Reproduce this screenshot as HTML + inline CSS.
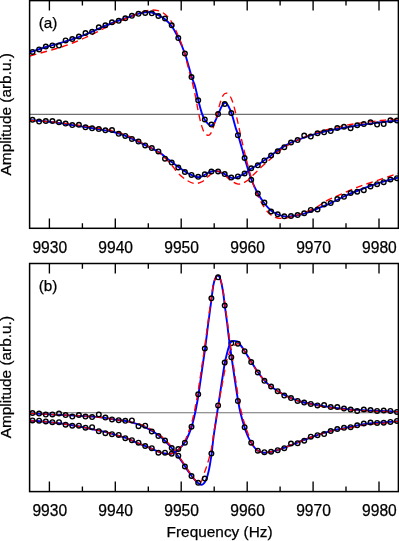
<!DOCTYPE html>
<html><head><meta charset="utf-8"><title>Figure</title>
<style>
html,body{margin:0;padding:0;background:#fff;}
svg{display:block;}
svg text{font-family:"Liberation Sans",sans-serif;font-size:15.6px;fill:#000;stroke:#000;stroke-width:0.25px;}
</style></head><body>
<div style="will-change:transform;width:399px;height:541px;overflow:hidden">
<svg width="399" height="541" viewBox="0 0 399 541">
<rect width="399" height="541" fill="#fff"/>
<line x1="29.6" y1="114.4" x2="398.4" y2="114.4" stroke="#707070" stroke-width="1.1"/><path d="M29.9 52.4C32.6 51.5 41.1 48.5 46.0 47.0C50.9 45.5 54.9 44.6 59.3 43.3C63.7 42.0 68.2 40.7 72.6 39.2C77.0 37.7 81.3 36.1 85.7 34.3C90.1 32.5 94.5 30.5 98.9 28.6C103.3 26.7 107.9 24.7 112.2 23.0C116.5 21.3 121.7 19.6 125.0 18.4C128.3 17.2 129.7 16.7 132.0 15.9C134.3 15.1 136.6 14.3 138.8 13.7C141.0 13.1 143.5 12.6 145.0 12.3C146.5 12.0 146.4 12.0 147.6 12.0C148.8 12.0 150.2 12.0 152.0 12.5C153.8 13.0 156.1 14.1 158.3 15.2C160.5 16.3 162.8 17.5 165.0 19.3C167.2 21.1 169.4 22.9 171.6 26.0C173.8 29.1 176.1 33.4 178.4 38.1C180.7 42.9 183.0 48.0 185.2 54.5C187.4 61.0 190.1 71.8 191.7 77.1C193.3 82.3 193.9 82.1 195.0 86.0C196.1 89.9 197.2 95.8 198.3 100.3C199.4 104.8 200.7 109.8 201.8 113.1C202.9 116.3 203.8 118.0 204.8 119.8C205.8 121.5 206.8 122.6 207.8 123.6C208.8 124.6 209.8 125.6 210.8 125.6C211.8 125.6 212.9 124.7 213.8 123.6C214.7 122.5 215.3 120.7 216.1 119.1C216.8 117.5 217.4 115.8 218.3 113.8C219.2 111.8 220.4 108.8 221.3 107.1C222.2 105.4 223.0 104.5 223.6 103.8C224.2 103.1 224.5 102.8 225.1 102.9C225.7 103.0 226.4 103.2 227.3 104.4C228.2 105.6 229.4 108.0 230.3 110.1C231.2 112.2 231.7 113.9 232.6 116.8C233.5 119.7 234.7 124.3 235.6 127.4C236.5 130.5 237.1 131.5 238.2 135.3C239.3 139.1 241.3 146.3 242.4 150.1C243.5 153.9 243.1 153.1 244.6 158.0C246.1 162.9 249.2 173.6 251.4 179.5C253.6 185.4 255.7 189.5 257.9 193.5C260.1 197.5 262.3 200.7 264.5 203.5C266.7 206.3 268.8 208.7 271.0 210.5C273.2 212.3 275.5 213.5 277.8 214.5C280.1 215.5 283.0 216.1 284.6 216.4C286.2 216.8 286.5 216.6 287.6 216.6C288.7 216.6 289.4 216.5 291.1 216.3C292.8 216.1 295.6 215.7 297.9 215.2C300.2 214.7 301.7 214.4 305.0 213.3C308.3 212.2 313.4 210.2 317.6 208.5C321.8 206.8 325.8 205.3 330.2 203.3C334.6 201.3 339.5 198.6 344.0 196.5C348.5 194.4 352.0 193.0 357.0 191.0C362.0 189.0 369.3 186.3 374.0 184.7C378.7 183.1 381.0 182.4 385.0 181.2C389.0 180.0 395.8 178.3 398.0 177.7" fill="none" stroke="#0000ff" stroke-width="1.9" stroke-linejoin="round"/><path d="M29.9 56.0C32.6 55.2 41.0 52.9 46.0 51.5C51.0 50.1 55.6 48.9 60.0 47.5C64.4 46.1 68.3 44.7 72.6 43.0C76.9 41.3 81.3 39.5 85.7 37.5C90.1 35.5 94.5 33.2 98.9 31.0C103.3 28.8 108.4 26.0 112.2 24.2C116.0 22.4 118.7 21.6 122.0 20.3C125.3 19.0 129.0 17.4 132.0 16.2C135.0 14.9 137.5 13.7 140.0 12.8C142.5 11.9 144.8 11.1 147.0 10.6C149.2 10.1 151.2 10.0 153.0 10.0C154.8 10.0 156.3 10.1 158.0 10.6C159.7 11.1 161.3 11.7 163.0 12.8C164.7 13.9 166.3 15.1 168.0 17.0C169.7 18.9 171.2 21.1 173.0 24.5C174.8 27.9 177.2 33.4 179.0 37.6C180.8 41.9 182.0 44.6 183.7 50.0C185.3 55.4 187.4 64.3 188.9 70.0C190.4 75.7 191.5 79.3 192.7 84.0C193.8 88.7 194.9 93.7 195.8 98.0C196.7 102.3 197.1 105.8 198.0 110.1C198.9 114.4 200.0 120.0 201.0 123.6C202.0 127.2 202.9 129.9 204.0 131.9C205.1 133.9 206.7 135.1 207.8 135.3C208.9 135.6 209.8 135.0 210.8 133.4C211.8 131.8 212.8 128.8 213.8 125.9C214.8 123.0 215.8 119.7 216.8 116.1C217.8 112.5 218.8 107.5 219.8 104.1C220.8 100.7 221.7 97.6 222.8 95.8C223.9 94.0 225.3 93.1 226.6 93.2C227.8 93.3 229.2 94.7 230.3 96.5C231.4 98.3 232.3 100.8 233.3 104.1C234.3 107.4 235.4 111.8 236.4 116.1C237.4 120.3 238.3 124.6 239.4 129.6C240.5 134.6 241.9 141.1 243.1 146.2C244.3 151.3 245.1 154.6 246.5 160.0C247.9 165.4 249.9 173.2 251.5 178.5C253.1 183.8 254.5 187.8 256.0 191.5C257.5 195.2 259.0 198.2 260.5 201.0C262.0 203.8 263.4 206.3 265.0 208.5C266.6 210.7 268.3 212.8 270.0 214.3C271.7 215.8 273.3 216.6 275.0 217.3C276.7 218.0 278.0 218.2 280.0 218.3C282.0 218.4 284.5 218.2 287.0 217.8C289.5 217.4 292.0 216.7 295.0 215.8C298.0 214.9 301.2 213.9 305.0 212.3C308.8 210.8 314.3 208.3 317.6 206.5C320.9 204.7 321.4 203.5 325.0 201.6C328.6 199.7 333.3 197.6 339.0 195.1C344.7 192.6 352.4 189.1 359.1 186.6C365.8 184.1 372.6 182.0 379.1 179.8C385.6 177.6 394.9 174.5 398.0 173.4" fill="none" stroke="#ff0000" stroke-width="1.35" stroke-dasharray="6.7 4.25"/><g fill="none" stroke="#000" stroke-width="1.4"><circle cx="32.5" cy="51.9" r="2.3"/><circle cx="39.1" cy="49.4" r="2.3"/><circle cx="45.8" cy="46.6" r="2.3"/><circle cx="52.4" cy="45.4" r="2.3"/><circle cx="59.0" cy="45.6" r="2.3"/><circle cx="65.6" cy="40.4" r="2.3"/><circle cx="72.3" cy="39.1" r="2.3"/><circle cx="78.9" cy="36.6" r="2.3"/><circle cx="85.5" cy="33.1" r="2.3"/><circle cx="92.1" cy="31.8" r="2.3"/><circle cx="98.8" cy="27.3" r="2.3"/><circle cx="105.4" cy="25.3" r="2.3"/><circle cx="112.0" cy="22.3" r="2.3"/><circle cx="118.7" cy="20.8" r="2.3"/><circle cx="125.3" cy="18.3" r="2.3"/><circle cx="131.9" cy="15.8" r="2.3"/><circle cx="138.5" cy="13.8" r="2.3"/><circle cx="145.2" cy="13.0" r="2.3"/><circle cx="151.8" cy="13.3" r="2.3"/><circle cx="158.4" cy="16.0" r="2.3"/><circle cx="165.0" cy="18.5" r="2.3"/><circle cx="171.7" cy="25.3" r="2.3"/><circle cx="178.3" cy="38.1" r="2.3"/><circle cx="184.9" cy="53.6" r="2.3"/><circle cx="191.5" cy="77.1" r="2.3"/><circle cx="198.2" cy="100.3" r="2.3"/><circle cx="204.8" cy="119.4" r="2.3"/><circle cx="211.4" cy="124.6" r="2.3"/><circle cx="218.1" cy="114.1" r="2.3"/><circle cx="224.7" cy="104.0" r="2.3"/><circle cx="231.3" cy="113.1" r="2.3"/><circle cx="237.9" cy="135.2" r="2.3"/><circle cx="244.6" cy="158.0" r="2.3"/><circle cx="251.2" cy="179.8" r="2.3"/><circle cx="257.8" cy="193.6" r="2.3"/><circle cx="264.4" cy="202.6" r="2.3"/><circle cx="271.1" cy="211.5" r="2.3"/><circle cx="277.7" cy="214.3" r="2.3"/><circle cx="284.3" cy="216.3" r="2.3"/><circle cx="291.0" cy="216.1" r="2.3"/><circle cx="297.6" cy="215.1" r="2.3"/><circle cx="304.2" cy="213.3" r="2.3"/><circle cx="310.8" cy="209.9" r="2.3"/><circle cx="317.5" cy="209.5" r="2.3"/><circle cx="324.1" cy="204.5" r="2.3"/><circle cx="330.7" cy="203.1" r="2.3"/><circle cx="337.3" cy="199.1" r="2.3"/><circle cx="344.0" cy="196.8" r="2.3"/><circle cx="350.6" cy="193.0" r="2.3"/><circle cx="357.2" cy="191.7" r="2.3"/><circle cx="363.8" cy="190.2" r="2.3"/><circle cx="370.5" cy="186.5" r="2.3"/><circle cx="377.1" cy="184.2" r="2.3"/><circle cx="383.7" cy="182.2" r="2.3"/><circle cx="390.4" cy="179.5" r="2.3"/><circle cx="397.0" cy="178.2" r="2.3"/></g><path d="M29.9 120.1C33.7 120.4 45.5 121.3 52.6 122.1C59.7 122.9 65.9 124.1 72.6 125.1C79.3 126.1 86.0 127.2 92.7 128.3C99.4 129.4 107.3 130.6 112.7 131.8C118.1 133.0 120.5 133.8 125.0 135.6C129.6 137.4 134.3 139.8 140.0 142.6C145.7 145.3 154.7 149.7 158.9 152.1C163.1 154.5 162.9 155.3 165.0 157.0C167.1 158.7 169.6 160.4 171.7 162.0C173.8 163.6 175.5 164.8 177.7 166.4C179.9 168.0 182.9 170.2 185.0 171.5C187.1 172.8 188.5 173.6 190.2 174.4C191.9 175.2 193.6 176.0 195.0 176.5C196.4 177.0 197.3 177.2 198.5 177.2C199.7 177.2 200.8 176.8 202.0 176.3C203.2 175.8 204.7 174.7 206.0 174.0C207.3 173.3 208.6 172.5 210.0 172.0C211.4 171.5 213.2 171.0 214.7 170.9C216.2 170.8 217.3 171.1 219.0 171.6C220.7 172.1 223.0 173.3 224.7 174.2C226.4 175.1 227.6 176.2 229.0 176.8C230.4 177.5 231.6 178.1 233.1 178.1C234.6 178.1 236.0 177.6 237.9 176.8C239.8 176.1 242.3 174.9 244.5 173.6C246.7 172.3 248.9 170.3 251.1 168.8C253.3 167.3 255.5 166.2 257.7 164.8C259.9 163.4 262.2 161.8 264.4 160.3C266.6 158.8 268.4 157.5 271.0 155.6C273.6 153.7 276.7 151.1 280.0 148.9C283.3 146.8 286.8 144.7 291.0 142.7C295.2 140.7 300.7 138.7 305.1 137.1C309.5 135.5 313.4 134.4 317.6 133.3C321.8 132.2 325.8 131.2 330.2 130.3C334.6 129.4 339.5 128.6 344.0 127.8C348.5 127.0 352.0 126.3 357.0 125.5C362.0 124.7 369.3 123.7 374.0 123.1C378.7 122.5 381.0 122.2 385.0 121.8C389.0 121.4 395.8 120.8 398.0 120.6" fill="none" stroke="#0000ff" stroke-width="1.9" stroke-linejoin="round"/><path d="M29.9 120.3C33.7 120.6 45.5 121.3 52.6 122.0C59.7 122.7 65.9 123.4 72.6 124.3C79.3 125.2 86.0 126.1 92.7 127.2C99.4 128.3 107.3 129.6 112.7 130.8C118.1 132.0 120.5 132.8 125.0 134.6C129.6 136.4 134.3 138.9 140.0 141.9C145.7 144.9 154.7 149.9 158.9 152.6C163.1 155.3 162.9 155.9 165.0 158.0C167.1 160.1 169.5 162.5 171.7 165.0C173.9 167.5 175.4 170.4 178.0 173.0C180.6 175.6 184.3 178.8 187.1 180.5C189.9 182.2 192.1 183.3 194.6 183.5C197.1 183.7 199.8 182.8 202.1 181.7C204.3 180.5 206.1 178.3 208.1 176.6C210.1 174.9 212.3 172.4 214.1 171.5C215.9 170.6 217.2 170.7 219.0 171.3C220.8 171.9 222.8 173.6 224.7 175.1C226.6 176.6 228.4 179.0 230.7 180.5C232.9 182.0 235.7 183.9 238.2 184.1C240.7 184.3 243.2 183.2 245.7 181.7C248.2 180.2 250.9 177.2 253.2 175.1C255.4 173.0 257.2 171.0 259.2 169.1C261.2 167.2 263.3 165.4 265.3 163.6C267.3 161.8 269.3 160.0 271.3 158.2C273.3 156.3 275.0 154.4 277.3 152.5C279.6 150.6 282.1 148.8 285.0 147.0C287.9 145.2 291.6 143.2 295.0 141.5C298.4 139.8 301.3 138.2 305.1 136.6C308.9 135.0 313.4 133.5 317.6 132.2C321.8 130.9 325.8 129.9 330.2 128.8C334.6 127.7 339.5 126.7 344.0 125.8C348.5 124.9 352.0 124.2 357.0 123.5C362.0 122.8 369.3 121.9 374.0 121.3C378.7 120.7 381.0 120.5 385.0 120.1C389.0 119.7 395.8 119.2 398.0 119.0" fill="none" stroke="#ff0000" stroke-width="1.35" stroke-dasharray="6.7 4.25"/><g fill="none" stroke="#000" stroke-width="1.4"><circle cx="32.5" cy="119.8" r="2.3"/><circle cx="39.1" cy="121.6" r="2.3"/><circle cx="45.8" cy="121.1" r="2.3"/><circle cx="52.4" cy="121.1" r="2.3"/><circle cx="59.0" cy="122.3" r="2.3"/><circle cx="65.6" cy="123.6" r="2.3"/><circle cx="72.3" cy="125.1" r="2.3"/><circle cx="78.9" cy="124.8" r="2.3"/><circle cx="85.5" cy="127.3" r="2.3"/><circle cx="92.1" cy="128.3" r="2.3"/><circle cx="98.8" cy="129.1" r="2.3"/><circle cx="105.4" cy="130.3" r="2.3"/><circle cx="112.0" cy="130.1" r="2.3"/><circle cx="118.7" cy="133.8" r="2.3"/><circle cx="125.3" cy="135.9" r="2.3"/><circle cx="131.9" cy="138.9" r="2.3"/><circle cx="138.5" cy="141.6" r="2.3"/><circle cx="145.2" cy="145.4" r="2.3"/><circle cx="151.8" cy="148.1" r="2.3"/><circle cx="158.4" cy="151.4" r="2.3"/><circle cx="165.0" cy="158.7" r="2.3"/><circle cx="171.7" cy="162.6" r="2.3"/><circle cx="178.3" cy="167.5" r="2.3"/><circle cx="184.9" cy="172.0" r="2.3"/><circle cx="191.5" cy="174.9" r="2.3"/><circle cx="198.2" cy="176.8" r="2.3"/><circle cx="204.8" cy="174.3" r="2.3"/><circle cx="211.4" cy="171.5" r="2.3"/><circle cx="218.1" cy="171.4" r="2.3"/><circle cx="224.7" cy="174.1" r="2.3"/><circle cx="231.3" cy="177.6" r="2.3"/><circle cx="237.9" cy="176.4" r="2.3"/><circle cx="244.6" cy="173.5" r="2.3"/><circle cx="251.2" cy="168.3" r="2.3"/><circle cx="257.8" cy="165.3" r="2.3"/><circle cx="264.4" cy="160.4" r="2.3"/><circle cx="271.1" cy="155.5" r="2.3"/><circle cx="277.7" cy="151.3" r="2.3"/><circle cx="284.3" cy="147.2" r="2.3"/><circle cx="291.0" cy="142.6" r="2.3"/><circle cx="297.6" cy="140.1" r="2.3"/><circle cx="304.2" cy="135.6" r="2.3"/><circle cx="310.8" cy="136.6" r="2.3"/><circle cx="317.5" cy="133.3" r="2.3"/><circle cx="324.1" cy="132.3" r="2.3"/><circle cx="330.7" cy="131.1" r="2.3"/><circle cx="337.3" cy="128.1" r="2.3"/><circle cx="344.0" cy="126.8" r="2.3"/><circle cx="350.6" cy="128.2" r="2.3"/><circle cx="357.2" cy="125.3" r="2.3"/><circle cx="363.8" cy="124.1" r="2.3"/><circle cx="370.5" cy="122.3" r="2.3"/><circle cx="377.1" cy="124.6" r="2.3"/><circle cx="383.7" cy="124.1" r="2.3"/><circle cx="390.4" cy="120.3" r="2.3"/><circle cx="397.0" cy="120.6" r="2.3"/></g><rect x="29.6" y="0.6" width="368.8" height="227.7" fill="none" stroke="#000" stroke-width="1.5"/><path d="M49.4 0.6v9.8M49.4 228.3v-9.8M82.4 0.6v5.0M82.4 228.3v-5.0M115.3 0.6v9.8M115.3 228.3v-9.8M148.3 0.6v5.0M148.3 228.3v-5.0M181.2 0.6v9.8M181.2 228.3v-9.8M214.2 0.6v5.0M214.2 228.3v-5.0M247.2 0.6v9.8M247.2 228.3v-9.8M280.1 0.6v5.0M280.1 228.3v-5.0M313.1 0.6v9.8M313.1 228.3v-9.8M346.0 0.6v5.0M346.0 228.3v-5.0M379.0 0.6v9.8M379.0 228.3v-9.8" stroke="#000" stroke-width="1.35" fill="none"/><text x="49.8" y="253.1" text-anchor="middle">9930</text><text x="115.7" y="253.1" text-anchor="middle">9940</text><text x="181.6" y="253.1" text-anchor="middle">9950</text><text x="247.6" y="253.1" text-anchor="middle">9960</text><text x="313.5" y="253.1" text-anchor="middle">9970</text><text x="379.4" y="253.1" text-anchor="middle">9980</text><text x="38.7" y="28.1" style="font-size:15.3px">(a)</text><text transform="translate(11.4,114.25) rotate(-90)" text-anchor="middle" style="font-size:15.4px">Amplitude (arb.u.)</text><line x1="29.6" y1="412.7" x2="398.4" y2="412.7" stroke="#707070" stroke-width="1.1"/><path d="M29.9 413.4C33.2 413.6 42.5 414.0 50.0 414.4C57.5 414.8 66.7 415.1 75.1 415.6C83.5 416.1 93.5 416.6 100.2 417.3C106.9 418.0 110.0 418.8 115.0 419.6C120.0 420.4 125.0 420.6 130.0 421.9C135.0 423.2 140.0 424.8 145.0 427.2C150.0 429.6 155.5 432.8 160.1 436.4C164.7 440.0 168.8 444.6 172.6 449.0C176.4 453.4 180.1 459.1 182.7 462.8C185.3 466.5 186.3 468.6 188.0 471.0C189.7 473.4 191.4 475.6 192.7 477.3C194.0 479.0 195.0 480.1 196.0 481.2C197.0 482.3 197.9 483.1 198.8 483.7C199.7 484.3 200.5 484.6 201.2 484.7C201.9 484.8 202.6 484.4 203.2 484.0C203.8 483.6 204.3 483.1 204.9 482.0C205.5 480.9 206.3 479.6 207.0 477.5C207.7 475.4 208.4 472.2 209.1 469.1C209.8 466.0 210.4 461.4 210.9 458.6C211.4 455.8 211.4 456.0 211.8 452.5C212.2 449.0 212.8 442.9 213.5 437.5C214.2 432.1 215.3 425.4 216.1 420.0C216.9 414.6 217.4 411.4 218.3 405.4C219.2 399.4 220.4 391.1 221.5 384.0C222.6 376.9 223.8 368.4 224.8 363.0C225.8 357.6 226.8 354.4 227.5 351.5C228.2 348.6 228.8 346.9 229.3 345.3C229.9 343.8 230.3 342.9 230.8 342.2C231.3 341.5 231.8 341.4 232.3 341.2C232.8 341.0 233.3 340.9 233.9 340.9C234.5 340.9 235.2 341.0 235.8 341.1C236.4 341.2 237.0 341.4 237.6 341.8C238.2 342.2 238.2 341.9 239.5 343.6C240.8 345.3 243.2 348.9 245.2 352.0C247.2 355.1 249.3 358.7 251.4 362.0C253.5 365.3 255.4 368.8 257.7 372.0C260.0 375.2 262.7 378.7 265.2 381.3C267.7 383.9 269.4 385.5 272.7 387.8C276.0 390.1 280.4 393.0 285.0 395.3C289.6 397.6 293.4 399.6 300.1 401.5C306.8 403.4 316.8 405.1 325.1 406.4C333.5 407.7 341.9 408.7 350.2 409.4C358.5 410.1 367.0 410.3 375.0 410.7C383.0 411.1 394.2 411.5 398.0 411.6" fill="none" stroke="#0000ff" stroke-width="1.9" stroke-linejoin="round"/><path d="M29.9 413.4C33.2 413.6 42.5 414.0 50.0 414.4C57.5 414.8 66.7 415.1 75.1 415.6C83.5 416.1 93.5 416.6 100.2 417.3C106.9 418.0 110.0 418.8 115.0 419.6C120.0 420.4 125.0 420.8 130.0 421.9C135.0 423.0 140.0 424.0 145.0 426.2C150.0 428.5 155.5 431.8 160.1 435.4C164.7 439.0 168.8 443.6 172.6 448.0C176.4 452.4 180.1 458.1 182.7 461.8C185.3 465.5 186.3 467.5 188.0 470.0C189.7 472.5 191.4 474.9 192.7 476.7C194.0 478.6 195.0 480.2 196.0 481.1C197.0 482.1 197.8 482.2 198.5 482.5C199.2 482.8 199.5 483.2 200.0 483.0C200.5 482.8 201.0 482.4 201.5 481.3C202.0 480.2 202.2 478.7 203.0 476.5C203.8 474.3 205.1 470.8 206.0 468.2C206.9 465.6 207.4 464.0 208.2 461.2C209.0 458.4 210.1 455.6 210.9 451.6C211.7 447.6 212.0 444.7 213.2 437.0C214.4 429.3 216.8 414.2 218.3 405.4C219.8 396.6 221.0 391.1 222.3 384.0C223.6 376.9 225.2 367.8 226.2 363.0C227.2 358.2 227.8 357.2 228.5 355.0C229.2 352.8 229.8 351.6 230.7 350.0C231.6 348.4 232.8 346.7 233.8 345.7C234.8 344.7 235.7 344.4 236.5 344.1C237.3 343.8 237.8 343.6 238.5 343.9C239.2 344.2 239.9 344.4 241.0 345.8C242.1 347.2 243.5 349.6 245.2 352.3C246.9 355.1 249.3 359.0 251.4 362.3C253.5 365.6 255.4 368.8 257.7 372.0C260.0 375.2 262.7 378.7 265.2 381.3C267.7 383.9 269.4 385.5 272.7 387.8C276.0 390.1 280.4 393.0 285.0 395.3C289.6 397.6 293.4 399.6 300.1 401.5C306.8 403.4 316.8 405.6 325.1 407.0C333.5 408.4 341.9 409.3 350.2 410.0C358.5 410.7 367.0 411.0 375.0 411.3C383.0 411.6 394.2 411.6 398.0 411.6" fill="none" stroke="#ff0000" stroke-width="1.35" stroke-dasharray="6.7 4.25"/><g fill="none" stroke="#000" stroke-width="1.4"><circle cx="32.5" cy="413.1" r="2.3"/><circle cx="39.1" cy="413.6" r="2.3"/><circle cx="45.8" cy="414.6" r="2.3"/><circle cx="52.4" cy="414.4" r="2.3"/><circle cx="59.0" cy="413.4" r="2.3"/><circle cx="65.6" cy="415.1" r="2.3"/><circle cx="72.3" cy="416.6" r="2.3"/><circle cx="78.9" cy="415.1" r="2.3"/><circle cx="85.5" cy="416.6" r="2.3"/><circle cx="92.1" cy="417.1" r="2.3"/><circle cx="98.8" cy="414.4" r="2.3"/><circle cx="105.4" cy="417.6" r="2.3"/><circle cx="112.0" cy="419.4" r="2.3"/><circle cx="118.7" cy="420.2" r="2.3"/><circle cx="125.3" cy="420.8" r="2.3"/><circle cx="131.9" cy="420.4" r="2.3"/><circle cx="138.5" cy="426.2" r="2.3"/><circle cx="145.2" cy="425.7" r="2.3"/><circle cx="151.8" cy="431.4" r="2.3"/><circle cx="158.4" cy="435.9" r="2.3"/><circle cx="165.0" cy="440.5" r="2.3"/><circle cx="171.7" cy="448.0" r="2.3"/><circle cx="178.3" cy="455.7" r="2.3"/><circle cx="184.9" cy="466.5" r="2.3"/><circle cx="191.5" cy="476.0" r="2.3"/><circle cx="198.2" cy="482.8" r="2.3"/><circle cx="204.8" cy="478.6" r="2.3"/><circle cx="211.4" cy="453.5" r="2.3"/><circle cx="218.1" cy="405.4" r="2.3"/><circle cx="224.7" cy="362.5" r="2.3"/><circle cx="231.3" cy="343.2" r="2.3"/><circle cx="237.9" cy="343.7" r="2.3"/><circle cx="244.6" cy="351.2" r="2.3"/><circle cx="251.2" cy="362.1" r="2.3"/><circle cx="257.8" cy="372.5" r="2.3"/><circle cx="264.4" cy="380.8" r="2.3"/><circle cx="271.1" cy="386.5" r="2.3"/><circle cx="277.7" cy="391.2" r="2.3"/><circle cx="284.3" cy="395.6" r="2.3"/><circle cx="291.0" cy="398.1" r="2.3"/><circle cx="297.6" cy="400.9" r="2.3"/><circle cx="304.2" cy="402.6" r="2.3"/><circle cx="310.8" cy="403.9" r="2.3"/><circle cx="317.5" cy="405.4" r="2.3"/><circle cx="324.1" cy="405.1" r="2.3"/><circle cx="330.7" cy="407.1" r="2.3"/><circle cx="337.3" cy="407.1" r="2.3"/><circle cx="344.0" cy="408.6" r="2.3"/><circle cx="350.6" cy="409.6" r="2.3"/><circle cx="357.2" cy="411.1" r="2.3"/><circle cx="363.8" cy="409.5" r="2.3"/><circle cx="370.5" cy="410.0" r="2.3"/><circle cx="377.1" cy="410.9" r="2.3"/><circle cx="383.7" cy="410.6" r="2.3"/><circle cx="390.4" cy="410.9" r="2.3"/><circle cx="397.0" cy="411.9" r="2.3"/></g><path d="M29.9 420.7C33.2 420.9 42.5 421.4 50.0 422.2C57.5 423.0 66.7 424.2 75.1 425.7C83.5 427.1 93.5 429.4 100.2 430.9C106.9 432.4 110.9 433.6 115.0 434.7C119.1 435.8 120.8 436.1 125.0 437.7C129.2 439.2 135.8 442.3 140.0 444.0C144.2 445.7 146.8 446.7 150.0 448.0C153.2 449.3 156.4 450.9 158.9 451.8C161.4 452.7 163.3 453.1 165.0 453.5C166.7 453.9 167.6 454.1 168.9 454.0C170.2 453.9 171.5 453.6 173.0 453.0C174.5 452.4 176.2 451.4 177.7 450.2C179.2 449.0 180.8 447.4 182.0 446.0C183.2 444.6 184.1 443.6 185.2 441.8C186.3 440.0 187.4 437.5 188.5 435.0C189.6 432.5 190.7 429.8 191.6 427.0C192.5 424.2 193.2 421.3 194.0 418.0C194.8 414.7 195.6 410.9 196.3 407.0C197.1 403.1 197.6 400.4 198.5 394.5C199.4 388.6 200.7 379.2 201.8 371.5C202.9 363.8 204.0 356.6 205.1 348.5C206.2 340.4 207.2 331.4 208.3 323.0C209.4 314.6 210.8 304.6 211.6 298.3C212.4 292.0 212.8 288.3 213.4 285.0C214.0 281.7 214.5 280.2 215.2 278.6C215.9 277.0 216.8 275.8 217.6 275.6C218.4 275.4 219.1 276.2 219.8 277.6C220.5 279.0 221.0 281.4 221.6 284.0C222.2 286.6 222.6 289.2 223.2 293.0C223.8 296.8 224.3 301.7 224.9 306.5C225.5 311.3 226.3 316.7 227.0 322.0C227.7 327.3 228.1 332.3 228.9 338.2C229.7 344.1 230.6 350.6 231.6 357.5C232.6 364.4 233.7 372.2 234.8 379.5C235.9 386.8 237.1 395.1 238.1 401.0C239.1 406.9 239.9 410.6 241.0 415.0C242.1 419.4 243.5 424.0 244.6 427.4C245.7 430.8 246.4 432.9 247.5 435.5C248.6 438.1 250.2 441.0 251.4 443.0C252.6 445.0 253.4 446.2 254.5 447.5C255.6 448.8 256.8 449.9 257.9 450.7C259.0 451.5 259.9 451.9 261.0 452.2C262.1 452.5 263.1 452.7 264.3 452.7C265.5 452.7 266.6 452.5 268.0 452.3C269.4 452.1 270.7 452.0 272.7 451.5C274.7 451.0 277.5 450.1 280.0 449.3C282.5 448.5 284.1 447.8 287.5 446.5C290.9 445.2 296.0 443.1 300.1 441.5C304.2 439.9 307.8 438.5 312.0 437.0C316.2 435.5 320.9 433.9 325.1 432.7C329.3 431.4 332.8 430.4 337.0 429.5C341.2 428.6 346.0 427.8 350.2 427.0C354.4 426.2 357.9 425.2 362.0 424.5C366.1 423.8 371.2 423.4 375.0 423.0C378.8 422.6 381.2 422.6 385.0 422.3C388.8 422.0 395.8 421.4 398.0 421.2" fill="none" stroke="#0000ff" stroke-width="1.9" stroke-linejoin="round"/><path d="M29.9 420.7C33.2 420.9 42.5 421.4 50.0 422.2C57.5 423.0 66.7 424.2 75.1 425.7C83.5 427.1 93.5 429.4 100.2 430.9C106.9 432.4 110.9 433.6 115.0 434.7C119.1 435.8 120.8 436.1 125.0 437.7C129.2 439.2 135.8 442.3 140.0 444.0C144.2 445.7 146.9 446.7 150.0 448.0C153.1 449.3 156.4 450.9 158.9 451.8C161.4 452.7 163.3 453.1 165.0 453.5C166.7 453.9 167.6 454.1 168.9 454.0C170.2 453.9 171.5 453.6 173.0 453.0C174.5 452.4 176.2 451.4 177.7 450.2C179.2 449.0 180.8 447.4 182.0 446.0C183.1 444.6 183.9 443.6 184.7 441.8C185.6 440.0 186.3 437.5 187.3 435.0C188.2 432.5 189.5 429.8 190.4 427.0C191.4 424.2 192.1 421.3 192.9 418.0C193.8 414.7 194.6 410.9 195.3 407.0C196.1 403.1 196.7 400.4 197.6 394.5C198.6 388.6 199.9 379.2 201.1 371.5C202.2 363.8 203.4 356.6 204.5 348.5C205.7 340.4 206.7 331.4 207.9 323.0C209.0 314.6 210.4 304.6 211.3 298.3C212.2 292.0 212.6 288.3 213.2 285.0C213.8 281.7 214.4 280.2 215.1 278.6C215.8 277.0 216.8 275.8 217.6 275.6C218.4 275.4 219.2 276.2 219.9 277.6C220.6 279.0 221.2 281.4 221.8 284.0C222.4 286.6 222.9 289.2 223.5 293.0C224.0 296.8 224.6 301.7 225.2 306.5C225.9 311.3 226.7 316.7 227.4 322.0C228.1 327.3 228.6 332.3 229.4 338.2C230.2 344.1 231.2 350.6 232.2 357.5C233.3 364.4 234.4 372.2 235.6 379.5C236.7 386.8 237.9 395.1 239.0 401.0C240.1 406.9 240.9 410.6 242.1 415.0C243.2 419.4 244.7 424.0 245.8 427.4C246.9 430.8 247.8 432.9 248.7 435.5C249.7 438.1 250.7 441.0 251.7 443.0C252.7 445.0 253.5 446.2 254.5 447.5C255.6 448.8 256.8 449.9 257.9 450.7C259.0 451.5 259.9 451.9 261.0 452.2C262.1 452.5 263.1 452.7 264.3 452.7C265.5 452.7 266.6 452.5 268.0 452.3C269.4 452.1 270.7 452.0 272.7 451.5C274.7 451.0 277.5 450.1 280.0 449.3C282.5 448.5 284.2 447.8 287.5 446.5C290.8 445.2 296.0 443.1 300.1 441.5C304.2 439.9 307.8 438.5 312.0 437.0C316.2 435.5 320.9 433.9 325.1 432.7C329.3 431.5 332.8 430.4 337.0 429.6C341.2 428.8 346.0 428.5 350.2 427.8C354.4 427.1 357.9 426.0 362.0 425.3C366.1 424.6 371.2 424.2 375.0 423.8C378.8 423.4 381.2 423.5 385.0 423.1C388.8 422.7 395.8 421.5 398.0 421.2" fill="none" stroke="#ff0000" stroke-width="1.35" stroke-dasharray="6.7 4.25"/><g fill="none" stroke="#000" stroke-width="1.4"><circle cx="32.5" cy="420.4" r="2.3"/><circle cx="39.1" cy="420.7" r="2.3"/><circle cx="45.8" cy="421.4" r="2.3"/><circle cx="52.4" cy="422.2" r="2.3"/><circle cx="59.0" cy="422.2" r="2.3"/><circle cx="65.6" cy="424.7" r="2.3"/><circle cx="72.3" cy="425.7" r="2.3"/><circle cx="78.9" cy="425.7" r="2.3"/><circle cx="85.5" cy="427.7" r="2.3"/><circle cx="92.1" cy="427.2" r="2.3"/><circle cx="98.8" cy="431.2" r="2.3"/><circle cx="105.4" cy="433.2" r="2.3"/><circle cx="112.0" cy="434.2" r="2.3"/><circle cx="118.7" cy="434.9" r="2.3"/><circle cx="125.3" cy="438.2" r="2.3"/><circle cx="131.9" cy="440.2" r="2.3"/><circle cx="138.5" cy="442.7" r="2.3"/><circle cx="145.2" cy="446.0" r="2.3"/><circle cx="151.8" cy="448.2" r="2.3"/><circle cx="158.4" cy="452.7" r="2.3"/><circle cx="165.0" cy="452.7" r="2.3"/><circle cx="171.7" cy="453.7" r="2.3"/><circle cx="178.3" cy="449.0" r="2.3"/><circle cx="184.9" cy="442.7" r="2.3"/><circle cx="191.5" cy="426.7" r="2.3"/><circle cx="198.2" cy="394.3" r="2.3"/><circle cx="204.8" cy="348.5" r="2.3"/><circle cx="211.4" cy="298.3" r="2.3"/><circle cx="218.1" cy="277.3" r="2.3"/><circle cx="224.7" cy="305.6" r="2.3"/><circle cx="231.3" cy="357.2" r="2.3"/><circle cx="237.9" cy="400.9" r="2.3"/><circle cx="244.6" cy="427.2" r="2.3"/><circle cx="251.2" cy="442.7" r="2.3"/><circle cx="257.8" cy="450.7" r="2.3"/><circle cx="264.4" cy="452.2" r="2.3"/><circle cx="271.1" cy="451.7" r="2.3"/><circle cx="277.7" cy="450.2" r="2.3"/><circle cx="284.3" cy="448.2" r="2.3"/><circle cx="291.0" cy="443.5" r="2.3"/><circle cx="297.6" cy="443.2" r="2.3"/><circle cx="304.2" cy="440.7" r="2.3"/><circle cx="310.8" cy="436.7" r="2.3"/><circle cx="317.5" cy="435.2" r="2.3"/><circle cx="324.1" cy="434.1" r="2.3"/><circle cx="330.7" cy="431.0" r="2.3"/><circle cx="337.3" cy="429.0" r="2.3"/><circle cx="344.0" cy="427.8" r="2.3"/><circle cx="350.6" cy="427.2" r="2.3"/><circle cx="357.2" cy="425.3" r="2.3"/><circle cx="363.8" cy="423.5" r="2.3"/><circle cx="370.5" cy="422.5" r="2.3"/><circle cx="377.1" cy="422.9" r="2.3"/><circle cx="383.7" cy="422.7" r="2.3"/><circle cx="390.4" cy="421.9" r="2.3"/><circle cx="397.0" cy="420.9" r="2.3"/></g><rect x="29.6" y="263.5" width="368.8" height="228.1" fill="none" stroke="#000" stroke-width="1.5"/><path d="M49.4 263.5v10.0M49.4 491.6v-10.0M82.4 263.5v5.2M82.4 491.6v-5.2M115.3 263.5v10.0M115.3 491.6v-10.0M148.3 263.5v5.2M148.3 491.6v-5.2M181.2 263.5v10.0M181.2 491.6v-10.0M214.2 263.5v5.2M214.2 491.6v-5.2M247.2 263.5v10.0M247.2 491.6v-10.0M280.1 263.5v5.2M280.1 491.6v-5.2M313.1 263.5v10.0M313.1 491.6v-10.0M346.0 263.5v5.2M346.0 491.6v-5.2M379.0 263.5v10.0M379.0 491.6v-10.0" stroke="#000" stroke-width="1.35" fill="none"/><text x="49.8" y="516.4" text-anchor="middle">9930</text><text x="115.7" y="516.4" text-anchor="middle">9940</text><text x="181.6" y="516.4" text-anchor="middle">9950</text><text x="247.6" y="516.4" text-anchor="middle">9960</text><text x="313.5" y="516.4" text-anchor="middle">9970</text><text x="379.4" y="516.4" text-anchor="middle">9980</text><text x="38.7" y="291.3" style="font-size:15.3px">(b)</text><text transform="translate(11.4,377.15) rotate(-90)" text-anchor="middle" style="font-size:15.4px">Amplitude (arb.u.)</text><text x="219.6" y="537" text-anchor="middle" style="font-size:15.4px">Frequency (Hz)</text>
</svg>
</div>
</body></html>
